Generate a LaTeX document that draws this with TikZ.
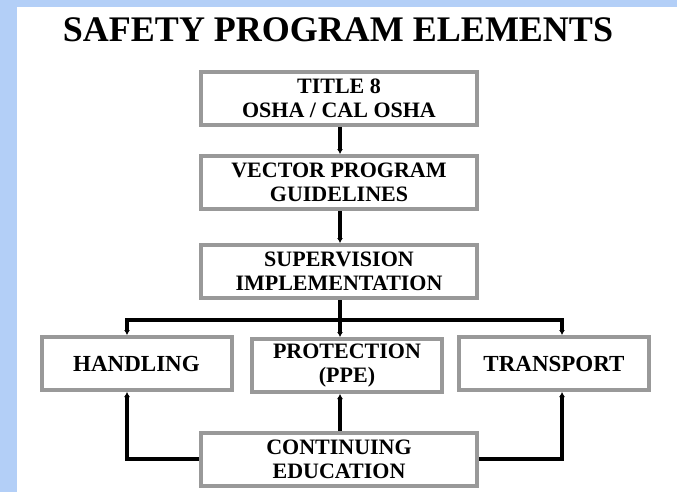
\documentclass[tikz,border=0pt]{standalone}
\usepackage{fontspec}
\setmainfont{Liberation Serif}
\usepackage{tikz}
\usetikzlibrary{arrows.meta,calc}
\definecolor{pagebg}{HTML}{B3CFF7}
\definecolor{boxgray}{HTML}{999999}
\tikzset{
  element/.style={draw=boxgray,line width=4pt,fill=white,inner sep=0pt,
    minimum width=276pt,minimum height=53pt,align=center,
    font=\fontsize{22}{24}\selectfont\bfseries},
  smallelement/.style={element,minimum width=190pt},
  link/.style={-{Latex[length=5pt,width=6pt]},line width=3.5pt,black}
}

\begin{document}
\begin{tikzpicture}[x=1pt,y=-1pt]
  \useasboundingbox (0,0) rectangle (677,492);
  \fill[pagebg] (0,0) rectangle (677,492);
  \fill[white] (17,7) rectangle (677,492);
  \node[anchor=base,font=\fontsize{36}{40}\selectfont\bfseries] (heading) at (338,42) {SAFETY PROGRAM ELEMENTS};
  \node[element] (title8) at (339,98.5) {TITLE 8\\OSHA / CAL OSHA};
  \node[element] (vector) at (339,182.5) {VECTOR PROGRAM\\GUIDELINES};
  \node[element] (super) at (339,271.5) {SUPERVISION\\IMPLEMENTATION};
  \node[smallelement,font=\fontsize{23}{24}\selectfont\bfseries] (handling) at (136.5,363.5) {HANDLING};
  \node[smallelement] (protect) at (347,365.5) {PROTECTION\\(PPE)};
  \node[smallelement,font=\fontsize{23}{24}\selectfont\bfseries] (transport) at (554,363.5) {TRANSPORT};
  \node[element] (contedu) at (339,459) {CONTINUING\\EDUCATION};
  \coordinate (busL) at (127,320);
  \coordinate (busM) at (340,320);
  \coordinate (busR) at (562,320);
  \draw[link] (title8.south -| busM) -- (vector.north -| busM);
  \draw[link] (vector.south -| busM) -- (super.north -| busM);
  \draw[link] (super.south -| busM) -- (busM |- protect.north);
  \draw[link] (busM) -| (busL |- handling.north);
  \draw[link] (busM) -| (busR |- transport.north);
  \draw[link] (contedu.west) -| (busL |- handling.south);
  \draw[link] (contedu.east) -| (busR |- transport.south);
  \draw[link] (contedu.north -| busM) -- (busM |- protect.south);
\end{tikzpicture}
\end{document}
